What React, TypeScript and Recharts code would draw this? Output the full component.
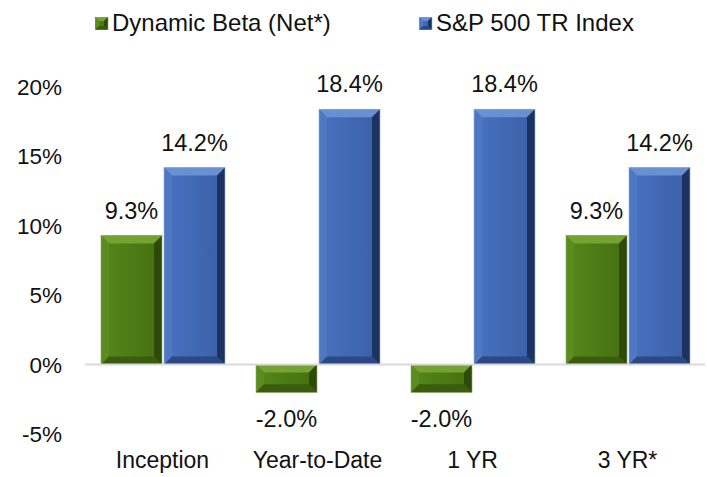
import { BarChart, Bar, XAxis, YAxis, ReferenceLine, Legend, LabelList } from 'recharts';

const categories = ['Inception', 'Year-to-Date', '1 YR', '3 YR*'];
const dynamicBeta = [9.3, -2.0, -2.0, 9.3];
const spIndex = [14.2, 18.4, 18.4, 14.2];
const yTicks = [-5, 0, 5, 10, 15, 20];

const data = categories.map((cat, i) => ({ cat, beta: dynamicBeta[i], sp: spIndex[i] }));

const FONT = '"Liberation Sans", Arial, sans-serif';

const palette: Record<string, { face: string; faceDark: string; top: string; left: string; right: string; bottom: string; edge: string }> = {
  green: { face: '#55861b', faceDark: '#44700f', top: '#74a332', left: '#5c8c20', right: '#2d4a08', bottom: '#3a5c0c', edge: '#8aa86a' },
  blue: { face: '#4872c0', faceDark: '#3a5fa6', top: '#6a90d4', left: '#4f78c2', right: '#1c3362', bottom: '#2a4985', edge: '#9ab0d8' },
};

const BevelRect = ({ x, y, w, h, tone, bevel = 8 }: { x: number; y: number; w: number; h: number; tone: string; bevel?: number }) => {
  const c = palette[tone];
  const b = Math.min(bevel, h / 2, w / 2);
  const x2 = x + w;
  const y2 = y + h;
  return (
    <g>
      <rect x={x} y={y} width={w} height={h} fill={`url(#face-${tone})`} />
      <polygon points={`${x},${y} ${x2},${y} ${x2 - b},${y + b} ${x + b},${y + b}`} fill={c.top} />
      <polygon points={`${x},${y} ${x + b},${y + b} ${x + b},${y2 - b} ${x},${y2}`} fill={c.left} />
      <polygon points={`${x2},${y} ${x2},${y2} ${x2 - b},${y2 - b} ${x2 - b},${y + b}`} fill={c.right} />
      <polygon points={`${x},${y2} ${x + b},${y2 - b} ${x2 - b},${y2 - b} ${x2},${y2}`} fill={c.bottom} />
      <rect x={x} y={y} width={w} height={h} fill="none" stroke={c.edge} strokeWidth={0.6} />
    </g>
  );
};

const makeShape = (tone: string) => (props: any) => {
  const { x, y, width, height } = props;
  if (width == null || height == null) return null;
  const top = Math.min(y, y + height);
  const h = Math.abs(height);
  return <BevelRect x={x} y={top} w={width} h={h} tone={tone} />;
};

const renderLabel = (props: any) => {
  const { x, y, width, height, value } = props;
  const top = Math.min(y, y + height);
  const bottom = Math.max(y, y + height);
  const cx = x + width / 2;
  const ty = value >= 0 ? top - 17 : bottom + 35;
  return (
    <text x={cx} y={ty} textAnchor="middle" fontSize={23.5} fontFamily={FONT} fill="#111">
      {`${value.toFixed(1)}%`}
    </text>
  );
};

const legendItems = [
  { label: 'Dynamic Beta (Net*)', tone: 'green', left: 95 },
  { label: 'S&P 500 TR Index', tone: 'blue', left: 419 },
];

const renderLegend = () => (
  <div style={{ position: 'relative', width: 707, height: 40 }}>
    {legendItems.map((it) => (
      <div key={it.label} style={{ position: 'absolute', left: it.left, top: 0, display: 'flex', alignItems: 'center' }}>
        <svg width={14} height={13} style={{ marginRight: 3 }}>
          <BevelRect x={0} y={0} w={13} h={13} tone={it.tone} bevel={4} />
        </svg>
        <span style={{ fontFamily: FONT, fontSize: 24, lineHeight: '28px', color: '#111', whiteSpace: 'nowrap' }}>{it.label}</span>
      </div>
    ))}
  </div>
);

export default function App() {
  return (
    <div style={{ position: 'absolute', left: 0, top: 0, background: '#fff' }}>
      <BarChart
        width={707}
        height={477}
        data={data}
        margin={{ top: 47, right: 2, left: 0, bottom: 13 }}
        barSize={61}
        barGap={2}
      >
        <defs>
          {Object.keys(palette).map((tone) => (
            <linearGradient key={tone} id={`face-${tone}`} x1="0" y1="0" x2="1" y2="0">
              <stop offset="0%" stopColor={palette[tone].face} />
              <stop offset="100%" stopColor={palette[tone].faceDark} />
            </linearGradient>
          ))}
        </defs>
        <Legend verticalAlign="top" height={40} content={renderLegend} wrapperStyle={{ top: 9, left: 0 }} />
        <XAxis
          dataKey="cat"
          axisLine={false}
          tickLine={false}
          tickMargin={12}
          height={30}
          tick={{ fontSize: 23, fill: '#111', fontFamily: FONT }}
        />
        <YAxis
          domain={[-5, 20]}
          ticks={yTicks}
          interval={0}
          axisLine={false}
          tickLine={false}
          width={85}
          tickMargin={17}
          tickFormatter={(v: number) => `${v}%`}
          tick={{ fontSize: 22.5, fill: '#111', fontFamily: FONT }}
        />
        <ReferenceLine y={0} stroke="#d9d9d9" strokeWidth={2} />
        <Bar dataKey="beta" name="Dynamic Beta (Net*)" shape={makeShape('green')} isAnimationActive={false}>
          <LabelList dataKey="beta" content={renderLabel} />
        </Bar>
        <Bar dataKey="sp" name="S&P 500 TR Index" shape={makeShape('blue')} isAnimationActive={false}>
          <LabelList dataKey="sp" content={renderLabel} />
        </Bar>
      </BarChart>
    </div>
  );
}
